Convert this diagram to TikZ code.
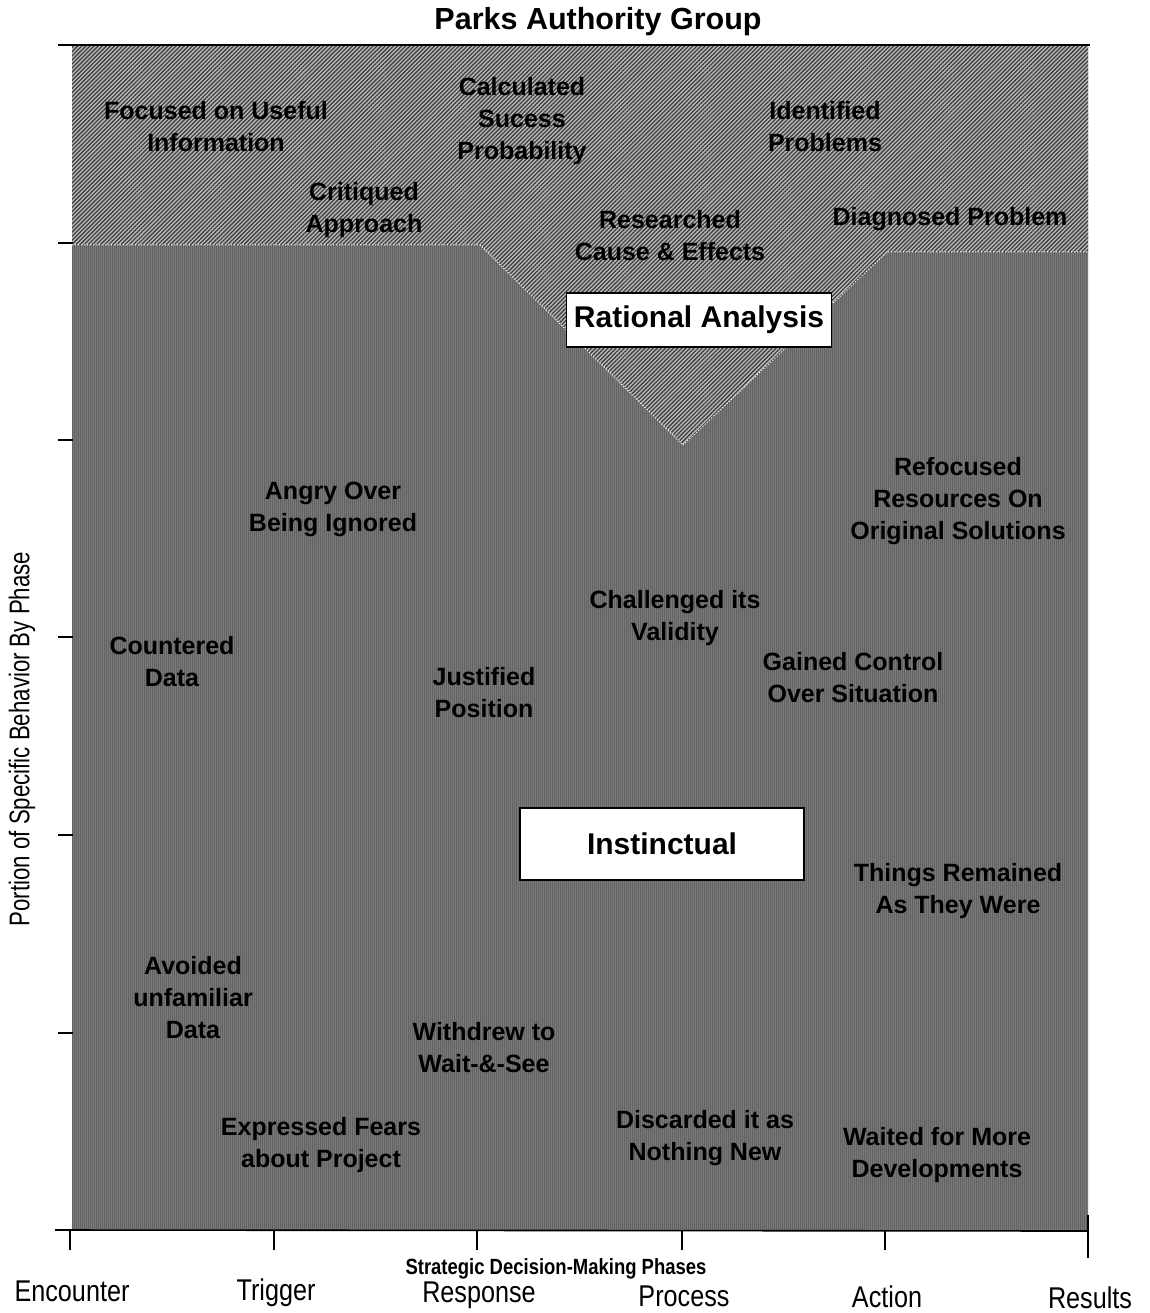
\documentclass[tikz,border=0pt]{standalone}
\usepackage{fontspec}
\setmainfont{Liberation Sans}
\newfontfamily\narrowfont[FakeStretch=0.84]{Liberation Sans}
\newfontfamily\condfont[FakeStretch=0.78]{Liberation Sans}
\usetikzlibrary{patterns.meta}
\definecolor{lowgray}{HTML}{7A7A7A}
\definecolor{lowstripe}{HTML}{626262}
\definecolor{hatchbase}{HTML}{BABABA}
\definecolor{hatchline}{HTML}{3E3E3E}
\begin{document}
\begin{tikzpicture}[x=1pt,y=-1pt,
  lbl/.style={font=\bfseries\fontsize{25}{32}\selectfont, align=center, inner sep=0pt, text=black},
  phase/.style={font=\narrowfont\fontsize{30}{32}\selectfont, inner sep=0pt},
  tagbox/.style={draw=black, fill=white, line width=1.1pt, font=\bfseries\fontsize{30}{34}\selectfont, inner sep=0pt},
  tick/.style={line width=1.1pt}]
\useasboundingbox (0,0) rectangle (1149,1313);

% plot body: instinctual region with fine vertical grain
\fill[lowgray] (72,45) rectangle (1088,1230);
\fill[pattern={Lines[angle=90,distance=2pt,line width=0.5pt]}, pattern color=lowstripe]
  (72,45) rectangle (1088,1230);
% rational analysis region (hatched) with its V notch
\fill[hatchbase] (72,45) -- (1088,45) -- (1088,252) -- (887,252) -- (683,445)
  -- (480,245) -- (72,245) -- cycle;
\fill[pattern={Lines[angle=45,distance=2.9pt,line width=1.3pt]}, pattern color=hatchline]
  (72,45) -- (1088,45) -- (1088,252) -- (887,252) -- (683,445)
  -- (480,245) -- (72,245) -- cycle;
\draw[white, line width=1pt, dotted] (72,245) -- (480,245) -- (683,445) -- (887,252) -- (1088,252);

% frame and axes
\draw[line width=1.3pt] (58,45) -- (1090,45);
\draw[line width=1.6pt] (55,1230) -- (1088,1231);
\foreach \y in {243,440,637,835,1033}
  \draw[tick] (58,\y) -- (73,\y);
\foreach \x in {70,274,477,682,885}
  \draw[tick] (\x,1230) -- (\x,1250);
\draw[tick] (1088,1215) -- (1088,1258);

% title and axis captions
\node[font=\bfseries\fontsize{30.5}{34}\selectfont] (title) at (598,22) {Parks Authority Group};
\node[font=\condfont\fontsize{28.5}{30}\selectfont, rotate=90] (ylab) at (22,739) {Portion of Specific Behavior By Phase};
\node[font=\narrowfont\bfseries\fontsize{22}{24}\selectfont] (xlab) at (556,1269) {Strategic Decision-Making Phases};

\node[phase] (p1) at (72,1291) {Encounter};
\node[phase] (p2) at (276,1293) {Trigger};
\node[phase] (p3) at (479,1295) {Response};
\node[phase] (p4) at (684,1296) {Process};
\node[phase] (p5) at (887,1297) {Action};
\node[phase] (p6) at (1090,1298) {Results};

% rational analysis behaviours
\node[lbl] (r1) at (216,127) {Focused on Useful\\Information};
\node[lbl] (r2) at (522,121) {Calculated\\Sucess\\Probability};
\node[lbl] (r3) at (825,127) {Identified\\Problems};
\node[lbl] (r4) at (364,210) {Critiqued\\Approach};
\node[lbl] (r5) at (670,236) {Researched\\Cause \& Effects};
\node[lbl] (r6) at (950,219) {Diagnosed Problem};
\node[tagbox, minimum width=265pt, minimum height=54pt] (rational) at (699,320) {Rational Analysis};

% instinctual behaviours
\node[lbl] (i1) at (333,509) {Angry Over\\Being Ignored};
\node[lbl] (i2) at (958,501) {Refocused\\Resources On\\Original Solutions};
\node[lbl] (i3) at (675,618) {Challenged its\\Validity};
\node[lbl] (i4) at (172,662) {Countered\\Data};
\node[lbl] (i5) at (484,693) {Justified\\Position};
\node[lbl] (i6) at (853,678) {Gained Control\\Over Situation};
\node[tagbox, minimum width=284pt, minimum height=72pt] (instinct) at (662,844) {Instinctual};
\node[lbl] (i7) at (958,891) {Things Remained\\As They Were};
\node[lbl] (i8) at (193,998) {Avoided\\unfamiliar\\Data};
\node[lbl] (i9) at (484,1048) {Withdrew to\\Wait-\&-See};
\node[lbl] (i10) at (321,1145) {Expressed Fears\\about Project};
\node[lbl] (i11) at (705,1138) {Discarded it as\\Nothing New};
\node[lbl] (i12) at (937,1155) {Waited for More\\Developments};
\end{tikzpicture}
\end{document}
